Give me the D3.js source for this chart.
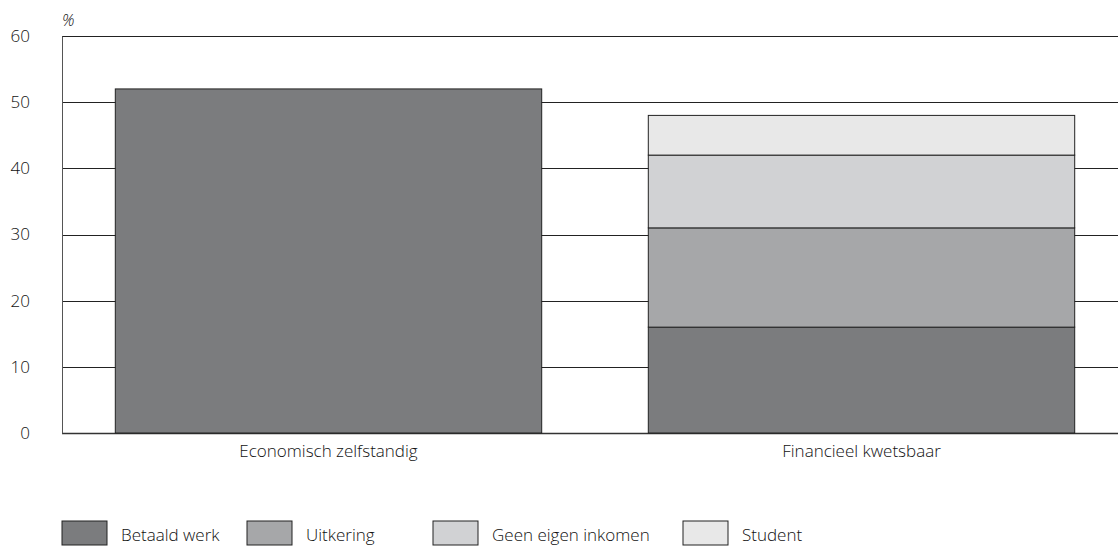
<!DOCTYPE html>
<html>
<head>
<meta charset="utf-8">
<script src="https://cdn.jsdelivr.net/npm/d3@7"></script>
<style>
    body { margin: 0; background: #fff; }
    svg { display: block; font-family: "Open Sans", sans-serif; font-weight: 300; }
</style>
</head>
<body>
<div id="chart"></div>
<script>
// data
const categories = ['Economisch zelfstandig', 'Financieel kwetsbaar'];
const series = ['Betaald werk', 'Uitkering', 'Geen eigen inkomen', 'Student'];
const betaaldWerk = [52, 16];
const uitkering = [0, 15];
const geenEigenInkomen = [0, 11];
const student = [0, 6];
const yTicks = [0, 10, 20, 30, 40, 50, 60];
const colors = ['#7b7c7e', '#a6a7a9', '#d1d2d4', '#e8e8e8'];

const width = 1118;
const height = 546;

const svg = d3.select('#chart')
    .append('svg')
    .attr('width', width)
    .attr('height', height);

// margins
const margin = { top: 36, right: 0, bottom: 113, left: 62 };
const graphHeight = height - margin.top - margin.bottom;

const graph = svg.append('g')
    .attr('transform', `translate(${ margin.left }, ${ margin.top })`);

// scales
const y = d3.scaleLinear()
    .domain([0, 60])
    .range([graphHeight, 0]);

const x = d3.scaleBand()
    .domain(categories)
    .range([0, 1066])
    .paddingInner(0.2)
    .paddingOuter(0.1);

// stacked table
const table = categories.map((c, i) => ({
    name: c,
    'Betaald werk': betaaldWerk[i],
    'Uitkering': uitkering[i],
    'Geen eigen inkomen': geenEigenInkomen[i],
    'Student': student[i]
}));
const stacked = d3.stack().keys(series)(table);

// gridlines
graph.append('g')
    .selectAll('line')
    .data(yTicks)
    .enter()
    .append('line')
    .attr('x1', 0)
    .attr('x2', width - margin.left)
    .attr('y1', d => Math.round(y(d)) + 0.5)
    .attr('y2', d => Math.round(y(d)) + 0.5)
    .attr('stroke', d => d === 0 ? '#333' : '#222')
    .attr('stroke-width', d => d === 0 ? 1.5 : 1);

// bars
graph.append('g')
    .selectAll('g')
    .data(stacked)
    .enter()
    .append('g')
    .attr('fill', (d, i) => colors[i])
    .selectAll('rect')
    .data(d => d.filter(s => s[1] - s[0] > 0))
    .enter()
    .append('rect')
    .attr('x', d => x(d.data.name))
    .attr('width', x.bandwidth())
    .attr('y', d => y(d[1]))
    .attr('height', d => y(d[0]) - y(d[1]))
    .attr('stroke', '#222')
    .attr('stroke-width', 1);

// y axis
const yAxis = d3.axisLeft(y)
    .tickValues(yTicks)
    .tickSize(0)
    .tickPadding(32);

const yAxisGroup = graph.append('g').call(yAxis);
yAxisGroup.select('path.domain')
    .attr('stroke', '#555');
yAxisGroup.selectAll('text')
    .attr('fill', '#111')
    .style('font-family', '"Open Sans", sans-serif')
    .style('font-size', '17px');

// x axis labels
const xAxis = d3.axisBottom(x).tickSize(0).tickPadding(12);
const xAxisGroup = graph.append('g')
    .attr('transform', `translate(0, ${ graphHeight })`)
    .call(xAxis);
xAxisGroup.select('path.domain').remove();
xAxisGroup.selectAll('text')
    .attr('fill', '#111')
    .style('font-family', '"Open Sans", sans-serif')
    .style('font-size', '17px');

// unit label
svg.append('text')
    .attr('x', 62)
    .attr('y', 26)
    .attr('fill', '#111')
    .style('font-size', '16px')
    .style('font-style', 'italic')
    .text('%');

// legend
const legendX = [62, 247, 433, 683];
const legend = svg.append('g')
    .selectAll('g')
    .data(series)
    .enter()
    .append('g')
    .attr('transform', (d, i) => `translate(${ legendX[i] }, 521)`);

legend.append('rect')
    .attr('width', 45)
    .attr('height', 24)
    .attr('fill', (d, i) => colors[i])
    .attr('stroke', '#222');

legend.append('text')
    .attr('x', 59)
    .attr('y', 20)
    .attr('fill', '#111')
    .style('font-size', '17px')
    .text(d => d);
</script>
</body>
</html>
